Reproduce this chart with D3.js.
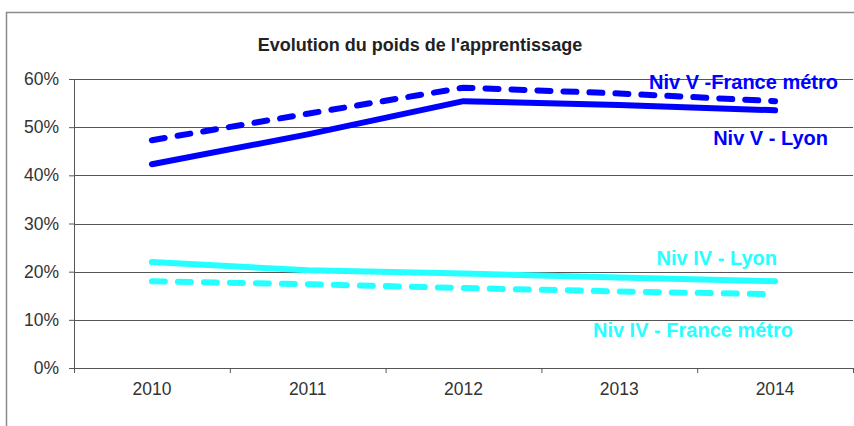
<!DOCTYPE html>
<html>
<head>
<meta charset="utf-8">
<script src="https://cdn.jsdelivr.net/npm/d3@7"></script>
<style>
  body { margin: 0; background: #fff; }
  svg { display: block; font-family: "Liberation Sans", Arial, sans-serif; }
</style>
</head>
<body>
<div id="chart"></div>
<script>
const years = ["2010", "2011", "2012", "2013", "2014"]
const yTicks = [0, 0.1, 0.2, 0.3, 0.4, 0.5, 0.6]
const nivVLyon = [0.423, 0.485, 0.554, 0.546, 0.535]
const nivVFrance = [0.473, 0.528, 0.582, 0.570, 0.554]
const nivIVLyon = [0.220, 0.203, 0.196, 0.188, 0.180]
const nivIVFrance = [0.180, 0.174, 0.166, 0.159, 0.153]

const series = [
  { name: "Niv V -France métro", values: nivVFrance, color: "#0000ff", dashed: true, lx: 838, ly: 82 },
  { name: "Niv V - Lyon", values: nivVLyon, color: "#0000ff", dashed: false, lx: 828, ly: 138 },
  { name: "Niv IV - Lyon", values: nivIVLyon, color: "#26ffff", dashed: false, lx: 777, ly: 258 },
  { name: "Niv IV - France métro", values: nivIVFrance, color: "#26ffff", dashed: true, lx: 793, ly: 330 }
]

const W = 854, H = 426
const margin = { top: 79, right: 1, bottom: 58, left: 74 }
const width = W - margin.left - margin.right
const height = H - margin.top - margin.bottom

const svg = d3.select("#chart").append("svg")
  .attr("width", W)
  .attr("height", H)

// outer frame
svg.append("rect")
  .attr("x", 6.5).attr("y", 12.5)
  .attr("width", W + 10).attr("height", H + 10)
  .attr("fill", "none")
  .attr("stroke", "#8c8c8c")
  .attr("stroke-width", 1.5)

svg.append("text")
  .attr("x", 420).attr("y", 51)
  .attr("text-anchor", "middle")
  .attr("font-size", 18)
  .attr("font-weight", "bold")
  .attr("fill", "#222")
  .text("Evolution du poids de l'apprentissage")

const g = svg.append("g").attr("transform", `translate(${margin.left},${margin.top})`)

const x = d3.scaleBand().domain(years).range([0, width])
const y = d3.scaleLinear().domain([0, 0.6]).range([height, 0])

// gridlines
g.append("g")
  .selectAll("line")
  .data(yTicks.filter(d => d > 0))
  .join("line")
  .attr("x1", 0).attr("x2", width)
  .attr("y1", d => Math.round(y(d)) + 0.5).attr("y2", d => Math.round(y(d)) + 0.5)
  .attr("stroke", "#555")
  .attr("stroke-width", 1)

const yAxis = g.append("g")
  .call(d3.axisLeft(y).tickValues(yTicks).tickFormat(d3.format(".0%")).tickSize(5).tickPadding(10))
yAxis.select(".domain").attr("stroke", "#555")
yAxis.selectAll(".tick line").attr("stroke", "#555")
yAxis.selectAll("text").attr("font-size", 17.5).attr("fill", "#333")
  .attr("font-family", "Liberation Sans, Arial, sans-serif")

const xAxis = g.append("g")
  .attr("transform", `translate(0,${height})`)
  .call(d3.axisBottom(x).tickSize(0).tickPadding(15))
xAxis.select(".domain").attr("stroke", "#555")
xAxis.selectAll("text").attr("font-size", 17.5).attr("fill", "#333")
  .attr("font-family", "Liberation Sans, Arial, sans-serif")

// category separator ticks
g.append("g")
  .selectAll("line")
  .data(years.map(d => x(d)).concat([width]))
  .join("line")
  .attr("x1", d => d + 0.5).attr("x2", d => d + 0.5)
  .attr("y1", height).attr("y2", height + 5)
  .attr("stroke", "#555")

const line = d3.line()
  .x((d, i) => x(years[i]) + x.bandwidth() / 2)
  .y(d => y(d))

g.append("g")
  .selectAll("path")
  .data(series)
  .join("path")
  .attr("d", d => line(d.values))
  .attr("fill", "none")
  .attr("stroke", d => d.color)
  .attr("stroke-width", 6)
  .attr("stroke-linecap", "round")
  .attr("stroke-linejoin", "round")
  .attr("stroke-dasharray", d => d.dashed ? "13,13" : null)

svg.append("g")
  .selectAll("text")
  .data(series)
  .join("text")
  .attr("x", d => d.lx)
  .attr("y", d => d.ly)
  .attr("dy", "0.35em")
  .attr("text-anchor", "end")
  .attr("font-size", 20)
  .attr("font-weight", "bold")
  .attr("fill", d => d.color)
  .text(d => d.name)
</script>
</body>
</html>
